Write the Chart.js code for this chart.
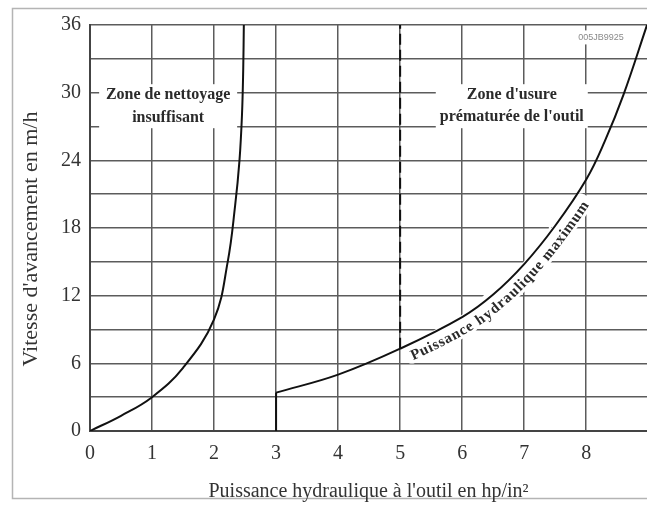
<!DOCTYPE html>
<html>
<head>
<meta charset="utf-8">
<script src="https://cdn.jsdelivr.net/npm/chart.js@4"></script>
<style>
    body { margin: 0; background: #fff; }
    #wrap { width: 647px; height: 506px; }
</style>
</head>
<body>
<div id="wrap"><canvas id="chart" width="647" height="506"></canvas></div>
<script>
// Zone de nettoyage insuffisant (left limit curve)
const cleanX = [0, 0.5, 1, 1.5, 2, 2.22, 2.34, 2.41, 2.45, 2.47, 2.48];
const cleanY = [0, 1.35, 3.0, 5.6, 9.9, 15, 20, 24, 28, 32, 36];

// Puissance hydraulique maximum
const powerX = [3, 4, 5, 6, 6.5, 7, 7.5, 8, 8.3, 8.6, 8.98];
const powerY = [3.4, 5.0, 7.3, 10.1, 12.1, 14.8, 18.2, 22.3, 25.7, 29.8, 36];

// vertical start of the power curve and dashed limit at 5 hp/in2
const powerStartX = 3;
const dashX = 5;

const xMin = 0, xMax = 8.98, xStep = 1;
const yMin = 0, yMax = 36, yStep = 3, yLabelStep = 6;

const xTitle = "Puissance hydraulique à l'outil en hp/in²";
const yTitle = "Vitesse d'avancement en m/h";
const zoneLeft = ['Zone de nettoyage', 'insuffisant'];
const zoneRight = ["Zone d'usure", "prématurée de l'outil"];
const curveText = 'Puissance hydraulique maximum';
const figCode = '005JB9925';

const serif = "'Liberation Serif', 'DejaVu Serif', serif";

function pairs(xs, ys) {
    return xs.map((x, i) => ({ x: x, y: ys[i] }));
}

const dashY = powerY[powerX.indexOf(dashX)];

// point on a pixel polyline at arc length s, with a smoothed direction
function alongPath(poly, s) {
    function at(d) {
        let acc = 0;
        for (let i = 1; i < poly.length; i++) {
            const a = poly[i - 1], b = poly[i];
            const len = Math.hypot(b.x - a.x, b.y - a.y);
            if (acc + len >= d || i === poly.length - 1) {
                const t = len ? (d - acc) / len : 0;
                return { x: a.x + (b.x - a.x) * t, y: a.y + (b.y - a.y) * t };
            }
            acc += len;
        }
        return poly[0];
    }
    const p = at(s), p1 = at(s - 14), p2 = at(s + 14);
    return { x: p.x, y: p.y, angle: Math.atan2(p2.y - p1.y, p2.x - p1.x) };
}

// sample the drawn bezier of the power curve into a fine polyline
function curvePolyline(chart) {
    const pts = chart.getDatasetMeta(2).data;
    const poly = [{ x: pts[0].x, y: pts[0].y }];
    for (let i = 1; i < pts.length; i++) {
        const a = pts[i - 1], b = pts[i];
        const c1 = { x: a.cp2x, y: a.cp2y }, c2 = { x: b.cp1x, y: b.cp1y };
        for (let k = 1; k <= 12; k++) {
            const t = k / 12, u = 1 - t;
            poly.push({
                x: u * u * u * a.x + 3 * u * u * t * c1.x + 3 * u * t * t * c2.x + t * t * t * b.x,
                y: u * u * u * a.y + 3 * u * u * t * c1.y + 3 * u * t * t * c2.y + t * t * t * b.y
            });
        }
    }
    return poly;
}

function arcLengthToX(poly, px) {
    let acc = 0;
    for (let i = 1; i < poly.length; i++) {
        const a = poly[i - 1], b = poly[i];
        const len = Math.hypot(b.x - a.x, b.y - a.y);
        if (b.x >= px) return acc + len * (px - a.x) / (b.x - a.x);
        acc += len;
    }
    return acc;
}

// glyph placement for the label running along the power curve
function layoutCurveText(chart, ctx) {
    const xs = chart.scales.x;
    const poly = curvePolyline(chart);
    let s = arcLengthToX(poly, xs.getPixelForValue(5.1));
    const spacing = 0.6;
    const offset = 16;
    const out = [];
    for (const ch of curveText) {
        const w = ctx.measureText(ch).width;
        const p = alongPath(poly, s + w / 2);
        const nx = -Math.sin(p.angle), ny = Math.cos(p.angle);
        out.push({ ch: ch, x: p.x + nx * offset, y: p.y + ny * offset, angle: p.angle });
        s += w + spacing;
    }
    return out;
}

const labelsPlugin = {
    id: 'zoneLabels',
    beforeDraw(chart) {
        const ctx = chart.ctx;
        ctx.save();
        ctx.fillStyle = '#fff';
        ctx.fillRect(0, 0, chart.width, chart.height);
        ctx.strokeStyle = '#b4b4b4';
        ctx.lineWidth = 1.5;
        ctx.strokeRect(12.5, 8.5, chart.width, 490);
        ctx.restore();
    },
    beforeDatasetsDraw(chart) {
        // white patches behind the texts, over the grid
        const ctx = chart.ctx, xs = chart.scales.x, ys = chart.scales.y;
        ctx.save();
        ctx.fillStyle = '#fff';
        let cx = xs.getPixelForValue(1.26), cy = ys.getPixelForValue(28.8);
        ctx.fillRect(cx - 69, cy - 22, 138, 44);
        cx = xs.getPixelForValue(6.8);
        ctx.fillRect(cx - 76, cy - 22, 152, 44);
        cx = xs.getPixelForValue(8.24); cy = ys.getPixelForValue(34.9);
        ctx.fillRect(cx - 28, cy - 7, 56, 14);

        ctx.font = 'bold 15px ' + serif;
        ctx.textAlign = 'center';
        ctx.textBaseline = 'alphabetic';
        ctx.strokeStyle = '#fff';
        ctx.lineWidth = 14;
        ctx.lineJoin = 'round';
        for (const g of layoutCurveText(chart, ctx)) {
            ctx.save();
            ctx.translate(g.x, g.y);
            ctx.rotate(g.angle);
            ctx.strokeText(g.ch, 0, -4);
            ctx.restore();
        }
        ctx.restore();
    },
    afterDatasetsDraw(chart) {
        const ctx = chart.ctx, xs = chart.scales.x, ys = chart.scales.y;
        ctx.save();
        ctx.fillStyle = '#2a2a2a';
        ctx.font = 'bold 16px ' + serif;
        ctx.textAlign = 'center';
        ctx.textBaseline = 'middle';
        let cx = xs.getPixelForValue(1.26), cy = ys.getPixelForValue(28.8);
        ctx.fillText(zoneLeft[0], cx, cy - 11);
        ctx.fillText(zoneLeft[1], cx, cy + 12);
        cx = xs.getPixelForValue(6.8);
        ctx.fillText(zoneRight[0], cx, cy - 11);
        ctx.fillText(zoneRight[1], cx, cy + 11);

        ctx.font = 'bold 15px ' + serif;
        ctx.textBaseline = 'alphabetic';
        for (const g of layoutCurveText(chart, ctx)) {
            ctx.save();
            ctx.translate(g.x, g.y);
            ctx.rotate(g.angle);
            ctx.fillText(g.ch, 0, 0);
            ctx.restore();
        }

        ctx.fillStyle = '#8a8a8a';
        ctx.font = '9px Arial, "Liberation Sans", sans-serif';
        ctx.textBaseline = 'middle';
        ctx.fillText(figCode, xs.getPixelForValue(8.24), ys.getPixelForValue(34.9));

        // y axis title, a little below the middle of the axis
        ctx.fillStyle = '#333';
        ctx.font = '22px ' + serif;
        ctx.translate(31, 239);
        ctx.rotate(-Math.PI / 2);
        ctx.fillText(yTitle, 0, 0);
        ctx.restore();
    }
};

const lineStyle = {
    showLine: true,
    pointRadius: 0,
    borderColor: '#111',
    borderWidth: 2,
    fill: false
};

new Chart(document.getElementById('chart'), {
    type: 'scatter',
    data: {
        datasets: [
            Object.assign({ label: 'nettoyage', data: pairs(cleanX, cleanY), tension: 0.4 }, lineStyle),
            Object.assign({ label: 'départ', data: [{ x: powerStartX, y: 0 }, { x: powerStartX, y: powerY[0] }] }, lineStyle),
            Object.assign({ label: 'puissance', data: pairs(powerX, powerY), tension: 0.4 }, lineStyle),
            Object.assign({ label: 'limite', data: [{ x: dashX, y: dashY }, { x: dashX, y: yMax }], borderDash: [11, 5] }, lineStyle)
        ]
    },
    options: {
        responsive: false,
        animation: false,
        layout: { padding: { left: 0, top: 25, right: 0, bottom: 0 } },
        plugins: {
            legend: { display: false },
            tooltip: { enabled: false }
        },
        scales: {
            x: {
                type: 'linear',
                min: xMin,
                max: xMax,
                afterFit: s => { s.height = 75; },
                border: { display: true, color: '#444', width: 2 },
                grid: { color: '#5c5c5c', lineWidth: 1.5, drawTicks: false },
                ticks: {
                    stepSize: xStep,
                    includeBounds: false,
                    padding: 11,
                    color: '#333',
                    font: { family: serif, size: 20 }
                },
                title: {
                    display: true,
                    text: xTitle,
                    color: '#333',
                    font: { family: serif, size: 20 },
                    padding: { top: 0, bottom: 2 }
                }
            },
            y: {
                min: yMin,
                max: yMax,
                afterFit: s => { s.width = 90; },
                border: { display: true, color: '#444', width: 2 },
                grid: { color: '#5c5c5c', lineWidth: 1.5, drawTicks: false },
                ticks: {
                    stepSize: yStep,
                    padding: 9,
                    color: '#333',
                    font: { family: serif, size: 20 },
                    callback: v => (v % yLabelStep === 0 ? v : '')
                }
            }
        }
    },
    plugins: [labelsPlugin]
});
</script>
</body>
</html>
